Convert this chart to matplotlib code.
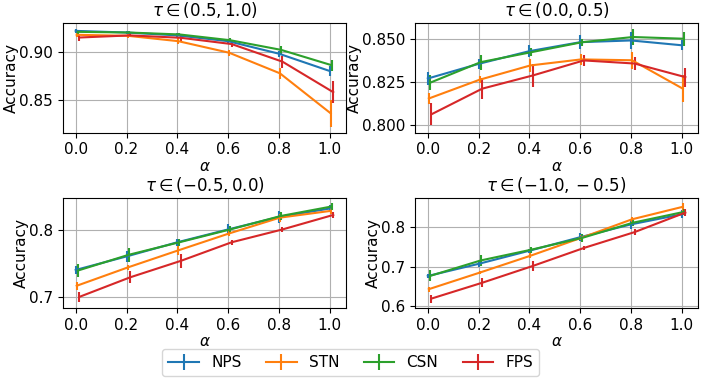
import matplotlib
matplotlib.use("Agg")
import matplotlib.pyplot as plt
import numpy as np

# ------------------------------------------------
# Data
# ------------------------------------------------
alphas = [0.0, 0.2, 0.4, 0.6, 0.8, 1.0]
methods = ["NPS", "STN", "CSN", "FPS"]
colors = ["#1f77b4", "#ff7f0e", "#2ca02c", "#d62728"]
offsets = [0.0, 0.004, 0.008, 0.014]

titles = [r"$\tau \in (0.5, 1.0)$", r"$\tau \in (0.0, 0.5)$",
          r"$\tau \in (-0.5, 0.0)$", r"$\tau \in (-1.0, -0.5)$"]

# tau in (0.5, 1.0)
p1_nps = [0.9217, 0.9200, 0.9170, 0.9110, 0.8980, 0.8800]
p1_stn = [0.9176, 0.9166, 0.9110, 0.8990, 0.8776, 0.8360]
p1_csn = [0.9207, 0.9200, 0.9180, 0.9120, 0.9020, 0.8860]
p1_fps = [0.9148, 0.9170, 0.9145, 0.9080, 0.8897, 0.8580]
p1_nps_err = [0.002, 0.002, 0.002, 0.002, 0.003, 0.005]
p1_stn_err = [0.002, 0.002, 0.003, 0.003, 0.0057, 0.0138]
p1_csn_err = [0.002, 0.002, 0.002, 0.002, 0.004, 0.0055]
p1_fps_err = [0.004, 0.002, 0.003, 0.003, 0.0064, 0.0115]

# tau in (0.0, 0.5)
p2_nps = [0.8269, 0.8354, 0.8428, 0.8480, 0.8490, 0.8462]
p2_stn = [0.8153, 0.8262, 0.8345, 0.8380, 0.8375, 0.8210]
p2_csn = [0.8244, 0.8364, 0.8422, 0.8480, 0.8510, 0.8500]
p2_fps = [0.8061, 0.8210, 0.8287, 0.8374, 0.8356, 0.8277]
p2_nps_err = [0.004, 0.003, 0.0036, 0.004, 0.005, 0.003]
p2_stn_err = [0.0034, 0.002, 0.004, 0.003, 0.005, 0.0077]
p2_csn_err = [0.0043, 0.0043, 0.0025, 0.002, 0.0046, 0.0042]
p2_fps_err = [0.0063, 0.006, 0.0065, 0.0034, 0.004, 0.0055]

# tau in (-0.5, 0.0)
p3_nps = [0.7404, 0.7606, 0.7818, 0.8010, 0.8197, 0.8323]
p3_stn = [0.7167, 0.7440, 0.7697, 0.7950, 0.8187, 0.8288]
p3_csn = [0.7394, 0.7630, 0.7818, 0.8010, 0.8212, 0.8354]
p3_fps = [0.7000, 0.7293, 0.7540, 0.7818, 0.8010, 0.8227]
p3_nps_err = [0.0055, 0.008, 0.005, 0.0075, 0.009, 0.005]
p3_stn_err = [0.006, 0.004, 0.007, 0.004, 0.006, 0.004]
p3_csn_err = [0.010, 0.010, 0.005, 0.005, 0.006, 0.005]
p3_fps_err = [0.008, 0.009, 0.010, 0.004, 0.004, 0.004]

# tau in (-1.0, -0.5)
p4_nps = [0.6760, 0.7069, 0.7403, 0.7747, 0.8073, 0.8330]
p4_stn = [0.6425, 0.6845, 0.7275, 0.7730, 0.8202, 0.8520]
p4_csn = [0.6760, 0.7155, 0.7430, 0.7730, 0.8116, 0.8390]
p4_fps = [0.6185, 0.6588, 0.7017, 0.7472, 0.7876, 0.8373]
p4_nps_err = [0.006, 0.008, 0.005, 0.010, 0.012, 0.010]
p4_stn_err = [0.006, 0.004, 0.006, 0.006, 0.006, 0.010]
p4_csn_err = [0.014, 0.014, 0.008, 0.010, 0.008, 0.008]
p4_fps_err = [0.010, 0.012, 0.012, 0.006, 0.008, 0.008]

panels = [
    ([p1_nps, p1_stn, p1_csn, p1_fps], [p1_nps_err, p1_stn_err, p1_csn_err, p1_fps_err]),
    ([p2_nps, p2_stn, p2_csn, p2_fps], [p2_nps_err, p2_stn_err, p2_csn_err, p2_fps_err]),
    ([p3_nps, p3_stn, p3_csn, p3_fps], [p3_nps_err, p3_stn_err, p3_csn_err, p3_fps_err]),
    ([p4_nps, p4_stn, p4_csn, p4_fps], [p4_nps_err, p4_stn_err, p4_csn_err, p4_fps_err]),
]

yticks = [[0.85, 0.90], [0.800, 0.825, 0.850], [0.7, 0.8], [0.6, 0.7, 0.8]]
yfmt = ["{:.2f}", "{:.3f}", "{:.1f}", "{:.1f}"]
ylims = [(0.816, 0.930), (0.7955, 0.8592), (0.6833, 0.8475), (0.5944, 0.8734)]

# ------------------------------------------------
# Plot
# ------------------------------------------------
plt.rcParams["font.size"] = 11
fig, axes = plt.subplots(2, 2, figsize=(7.06, 3.88), dpi=100)
fig.subplots_adjust(left=0.089, right=0.989, top=0.941, bottom=0.206,
                    hspace=0.6, wspace=0.243)

handles = []
for ax, (means, errs), title, yt, fmt, yl in zip(axes.flat, panels, titles,
                                                  yticks, yfmt, ylims):
    for name, color, off, m, e in zip(methods, colors, offsets, means, errs):
        x = np.array(alphas) + off
        h = ax.errorbar(x, m, yerr=e, color=color, label=name,
                        linewidth=1.5, elinewidth=1.5)
        if ax is axes.flat[0]:
            handles.append(h)
    ax.set_title(title, fontsize=12, pad=5)
    ax.set_xlabel(r"$\alpha$", labelpad=1)
    ax.set_ylabel("Accuracy", labelpad=0)
    ax.set_xticks(alphas)
    ax.set_xticklabels(["{:.1f}".format(a) for a in alphas])
    ax.set_yticks(yt)
    ax.set_yticklabels([fmt.format(v) for v in yt])
    ax.set_ylim(*yl)
    ax.grid(True)

fig.legend(handles, methods, loc="lower center", ncol=4,
           bbox_to_anchor=(0.497, 0.01), columnspacing=1.6, handlelength=2.0)

fig.savefig("out.png", dpi=100)
